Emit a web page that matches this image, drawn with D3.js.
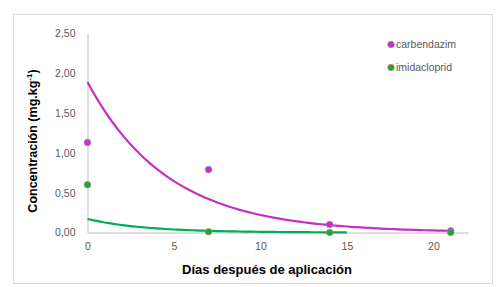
<!DOCTYPE html>
<html>
<head>
<meta charset="utf-8">
<script src="https://cdn.jsdelivr.net/npm/d3@7"></script>
<style>
  body { margin: 0; background: #fff; }
  svg { display: block; }
  .tick text { font-family: "Liberation Sans", Arial, sans-serif; font-size: 10.5px; fill: #595959; }
</style>
</head>
<body>
<svg width="504" height="287"></svg>
<script>
// datos
const dias = [0, 7, 14, 21];
const carbendazim = [1.13, 0.79, 0.10, 0.02];
const imidacloprid = [0.60, 0.01, 0.00, 0.00];
const seriesNames = ["carbendazim", "imidacloprid"];

// líneas de tendencia exponencial y = a*e^(-k x)
const trendCarb = { a: 1.89, k: 0.215, x0: 0, x1: 21 };
const trendImid = { a: 0.17, k: 0.30, x0: 0, x1: 15 };

const xTicks = [0, 5, 10, 15, 20];
const yTicks = [0, 0.5, 1, 1.5, 2, 2.5];

var svg = d3.select("svg");

// borde del área del gráfico
svg.append("rect")
  .attr("x", 13.5).attr("y", 14.5)
  .attr("width", 479).attr("height", 269)
  .attr("fill", "#fff").attr("stroke", "#d9d9d9");

var x = d3.scaleLinear().domain([0, 22]).range([87.5, 468]);
var y = d3.scaleLinear().domain([0, 2.5]).range([232.5, 33.5]);

var fmt = d => d3.format(".2f")(d).replace(".", ",");

// eje Y
var gy = svg.append("g")
  .attr("transform", "translate(" + x(0) + ",0)")
  .call(d3.axisLeft(y).tickValues(yTicks).tickFormat(fmt).tickSize(0).tickPadding(12));
gy.select(".domain").attr("stroke", "#bfbfbf");

// eje X
var gx = svg.append("g")
  .attr("transform", "translate(0," + y(0) + ")")
  .call(d3.axisBottom(x).tickValues(xTicks).tickFormat(d3.format("d")).tickSize(0).tickPadding(10));
gx.select(".domain").attr("stroke", "#bfbfbf");

// tendencias
function trendPoints(t) {
  return d3.range(t.x0, t.x1 + 0.001, 0.25).map(v => [v, t.a * Math.exp(-t.k * v)]);
}
var line = d3.line().x(d => x(d[0])).y(d => y(d[1]));

svg.append("path")
  .datum(trendPoints(trendImid))
  .attr("d", line).attr("fill", "none")
  .attr("stroke", "#00b050").attr("stroke-width", 2.2);

svg.append("path")
  .datum(trendPoints(trendCarb))
  .attr("d", line).attr("fill", "none")
  .attr("stroke", "#c42fc1").attr("stroke-width", 2.2);

// puntos
function puntos(vals, fill, stroke) {
  svg.append("g").selectAll("circle")
    .data(vals)
    .enter().append("circle")
    .attr("cx", (d, i) => x(dias[i]))
    .attr("cy", d => y(d))
    .attr("r", 3.3)
    .attr("fill", fill)
    .attr("stroke", stroke)
    .attr("stroke-width", 0.6);
}
puntos(carbendazim, "#cf2dbd", "#5b9bd5");
puntos(imidacloprid, "#12a64f", "#ed7d31");

// leyenda
var legend = svg.append("g").selectAll("g")
  .data(seriesNames)
  .enter().append("g")
  .attr("transform", (d, i) => "translate(391," + (44.5 + i * 23) + ")");
legend.append("circle")
  .attr("r", 3.3)
  .attr("fill", (d, i) => i === 0 ? "#cf2dbd" : "#12a64f")
  .attr("stroke", (d, i) => i === 0 ? "#5b9bd5" : "#ed7d31")
  .attr("stroke-width", 0.6);
legend.append("text")
  .attr("x", 5).attr("dy", "0.35em")
  .style("font-family", "Liberation Sans, Arial, sans-serif")
  .style("font-size", "10.5px")
  .attr("fill", "#595959")
  .text(d => d);

// títulos de ejes
svg.append("text")
  .attr("x", 267).attr("y", 274)
  .attr("text-anchor", "middle")
  .style("font-family", "Liberation Sans, Arial, sans-serif")
  .style("font-size", "13px").style("font-weight", "bold")
  .attr("fill", "#000")
  .text("Días después de aplicación");

var yt = svg.append("text")
  .attr("transform", "translate(37,141) rotate(-90)")
  .attr("text-anchor", "middle")
  .style("font-family", "Liberation Sans, Arial, sans-serif")
  .style("font-size", "12.5px").style("font-weight", "bold")
  .attr("fill", "#000");
yt.append("tspan").text("Concentración (mg.kg");
yt.append("tspan").attr("dy", -5).style("font-size", "8px").text("-1");
yt.append("tspan").attr("dy", 5).text(")");
</script>
</body>
</html>
